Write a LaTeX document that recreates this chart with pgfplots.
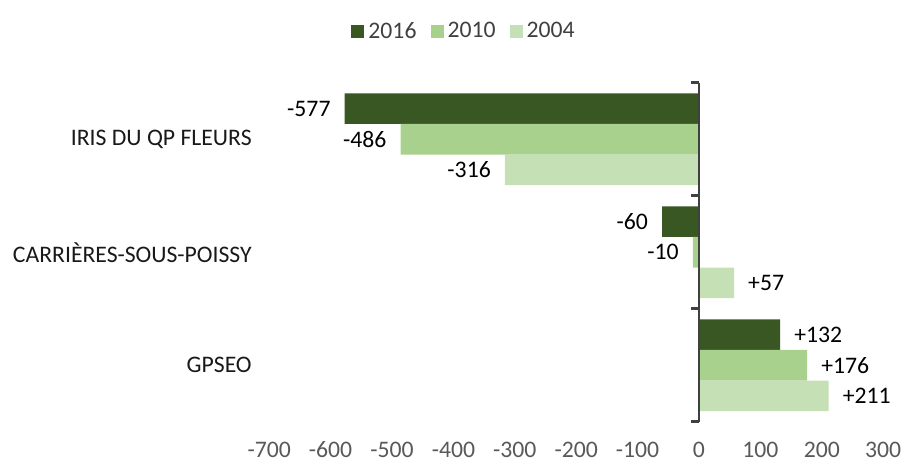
\documentclass[border=0pt]{standalone}
\usepackage{fontspec}
\setmainfont{Carlito}
\usepackage{pgfplots}
\pgfplotsset{compat=1.18}
\definecolor{cA}{HTML}{385723}
\definecolor{cB}{HTML}{A9D18E}
\definecolor{cC}{HTML}{C5E0B4}
\definecolor{tickgray}{HTML}{595959}
\definecolor{axgray}{HTML}{404040}
\newcommand{\lf}{\fontsize{23.7}{28}\selectfont}
\begin{document}
\begin{tikzpicture}
\useasboundingbox (-269.2pt,-39.3pt) rectangle (631.8pt,421.7pt);
\begin{axis}[
  scale only axis, width=614pt, height=339pt,
  xmin=-700, xmax=300, ymin=-0.5, ymax=2.5, y dir=reverse,
  xbar, bar width=0.271,
  clip=false,
  axis line style={draw=none}, major tick length=0pt,
  xtick={-700,-600,-500,-400,-300,-200,-100,0,100,200,300},
  xticklabels={-700,-600,-500,-400,-300,-200,-100,0,100,200,300},
  ytick={0,1,2},
  yticklabels={IRIS DU QP FLEURS,CARRIÈRES-SOUS-POISSY,GPSEO},
  tick label style={font=\lf},
  xticklabel style={text=tickgray, inner ysep=0pt, yshift=-20pt},
  yticklabel style={text=black!90, xshift=-14pt},
  point meta=explicit symbolic,
  visualization depends on={rawx \as \rx},
  nodes near coords={\pgfplotspointmeta},
  every node near coord/.append style={font=\lf, text=black, inner xsep=14pt,
    anchor=\ifdim\rx pt<0pt east\else west\fi},
  legend columns=3,
  legend style={draw=none, fill=none, at={(0.3173,1.1525)}, anchor=center,
    font=\lf, text=axgray,
    /tikz/every odd column/.append style={column sep=2pt},
    /tikz/every even column/.append style={column sep=12pt}},
  legend image code/.code={\fill[#1] (0pt,-6.5pt) rectangle (13pt,6.5pt);},
]
\addplot[fill=cA, draw=none, bar shift=-0.271] table[x=v, y=c, meta=l] {
c v l
0 -577 -577
1 -60 -60
2 132 +132
};
\addplot[fill=cB, draw=none, bar shift=0] table[x=v, y=c, meta=l] {
c v l
0 -486 -486
1 -10 -10
2 176 +176
};
\addplot[fill=cC, draw=none, bar shift=0.271] table[x=v, y=c, meta=l] {
c v l
0 -316 -316
1 57 +57
2 211 +211
};
\legend{2016,2010,2004}
\draw[axgray, line width=2.5pt] (axis cs:0,-0.5) -- (axis cs:0,2.5);
\pgfplotsinvokeforeach{-0.5,0.5,1.5,2.5}{
  \draw[axgray, line width=2.5pt] (axis cs:0,#1) -- ++(-8pt,0pt);
}
\end{axis}
\end{tikzpicture}
\end{document}
